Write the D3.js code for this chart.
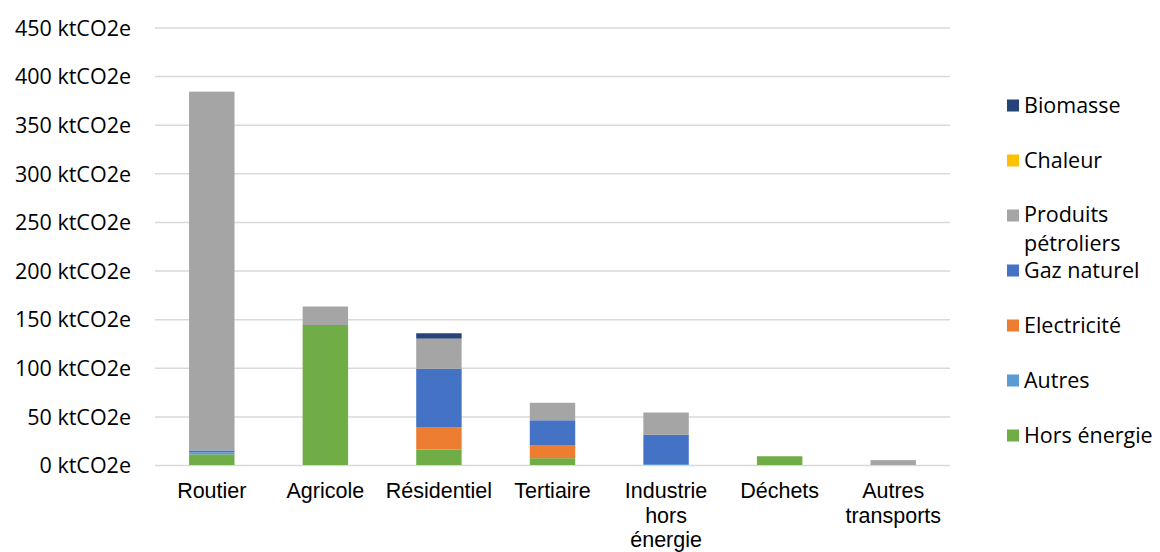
<!DOCTYPE html>
<html>
<head>
<meta charset="utf-8">
<script src="https://cdn.jsdelivr.net/npm/d3@7"></script>
<style>
  html, body { margin: 0; padding: 0; background: #fff; }
  svg { display: block; font-family: "Open Sans", "DejaVu Sans", sans-serif; }
</style>
</head>
<body>
<svg id="chart" width="1160" height="552"></svg>
<script>
// Emissions by sector, stacked by energy source (ktCO2e)
const categories = ["Routier", "Agricole", "Résidentiel", "Tertiaire", "Industrie hors énergie", "Déchets", "Autres transports"];

const horsEnergie        = [11, 144, 16, 7, 0, 9, 0];
const autres             = [2, 0, 0, 0, 1, 0, 0];
const electricite        = [0, 0, 23, 13, 0, 0, 0];
const gazNaturel         = [2, 0, 60, 26, 30, 0, 0];
const produitsPetroliers = [369, 19, 31, 18, 23, 0, 5];
const chaleur            = [0, 0, 0, 0, 0, 0, 0];
const biomasse           = [0, 0, 5.5, 0, 0, 0, 0];

// Stacking order, bottom to top
const seriesNames  = ["Hors énergie", "Autres", "Electricité", "Gaz naturel", "Produits pétroliers", "Chaleur", "Biomasse"];
const seriesValues = [horsEnergie, autres, electricite, gazNaturel, produitsPetroliers, chaleur, biomasse];
const seriesColors = ["#70AD47", "#5B9BD5", "#ED7D31", "#4472C4", "#A5A5A5", "#FFC000", "#264478"];

const yTicks = [0, 50, 100, 150, 200, 250, 300, 350, 400, 450];
const yUnit = " ktCO2e";

const FS = 21.5;
const svg = d3.select("#chart");
const margin = { left: 155, right: 210, top: 27.5, bottom: 87 };
const W = 1160, H = 552;

const rows = categories.map((c, i) => {
  const r = { category: c };
  seriesNames.forEach((s, k) => { r[s] = seriesValues[k][i]; });
  return r;
});
const stacked = d3.stack().keys(seriesNames)(rows);

const x = d3.scaleBand().domain(categories).range([margin.left, W - margin.right]).paddingInner(0.6).paddingOuter(0.3);
const y = d3.scaleLinear().domain([0, 450]).range([H - margin.bottom, margin.top]);

// Gridlines + y labels
const yAxis = d3.axisLeft(y).tickValues(yTicks).tickSize(-(W - margin.right - margin.left)).tickFormat(d => d + yUnit);
const gy = svg.append("g").attr("transform", `translate(${margin.left},0)`).call(yAxis);
gy.select(".domain").remove();
gy.selectAll(".tick line").attr("stroke", "#d9d9d9").attr("stroke-width", 1.5);
gy.selectAll(".tick text").attr("x", -24).attr("dy", "0.36em").attr("font-size", FS).attr("fill", "#000")
  .attr("font-family", "\"Open Sans\", sans-serif");

// Bars
svg.append("g").selectAll("g").data(stacked).join("g")
  .attr("fill", (d, i) => seriesColors[i])
  .selectAll("rect").data(d => d).join("rect")
  .attr("x", (d, i) => x(categories[i]))
  .attr("width", x.bandwidth())
  .attr("y", d => y(d[1]))
  .attr("height", d => y(d[0]) - y(d[1]));

// Category labels (wrapped)
const xAxis = d3.axisBottom(x).tickSize(0).tickPadding(0);
const gx = svg.append("g").attr("transform", `translate(0,${H - margin.bottom})`).call(xAxis);
gx.select(".domain").remove();
gx.selectAll(".tick text").attr("font-size", FS).attr("fill", "#000").attr("dy", 0)
  .each(function (d) {
    const t = d3.select(this);
    const words = d.split(" ");
    t.text(null);
    let lines = [], cur = [];
    words.forEach(w => {
      const trial = cur.concat(w).join(" ");
      const probe = t.append("tspan").text(trial);
      const wd = probe.node().getComputedTextLength();
      probe.remove();
      if (cur.length && wd > 95) { lines.push(cur.join(" ")); cur = [w]; } else { cur.push(w); }
    });
    lines.push(cur.join(" "));
    lines.forEach((l, i) => t.append("tspan").attr("x", 0).attr("y", 33 + i * 24.5).text(l));
  });

// Legend (listed top to bottom in reverse stacking order)
const legendItems = seriesNames.map((n, i) => ({ name: n, color: seriesColors[i] })).reverse();
const lg = svg.append("g").attr("font-size", FS);
legendItems.forEach((it, i) => {
  const cy = 105.5 + i * 55;
  lg.append("rect").attr("x", 1007).attr("y", cy - 6).attr("width", 12).attr("height", 12).attr("fill", it.color);
  if (it.name === "Produits pétroliers") {
    // two-line entry: the second line sits just above the next entry
    lg.append("text").attr("x", 1024).attr("y", cy + 6).attr("fill", "#000").text("Produits");
    lg.append("text").attr("x", 1024).attr("y", cy + 35).attr("fill", "#000").text("pétroliers");
  } else {
    lg.append("text").attr("x", 1024).attr("y", cy + 7.5).attr("fill", "#000").text(it.name);
  }
});
</script>
</body>
</html>
